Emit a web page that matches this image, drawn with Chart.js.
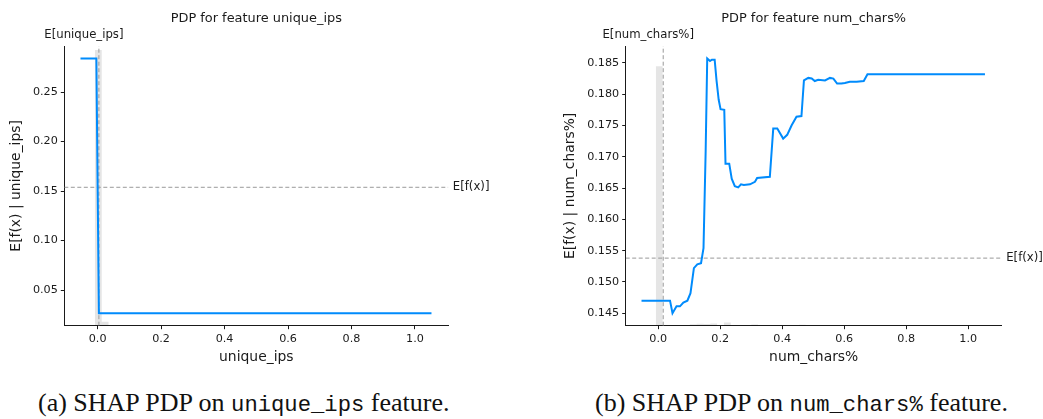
<!DOCTYPE html>
<html>
<head>
<meta charset="utf-8">
<script src="https://cdn.jsdelivr.net/npm/chart.js@4.4.1/dist/chart.umd.min.js"></script>
<style>
  body { margin: 0; background: #fff; width: 1043px; height: 419px; position: relative; overflow: hidden; }
  canvas { position: absolute; top: 0; }
  #c1 { left: 0; }
  #c2 { left: 520px; }
  .cap { position: absolute; top: 390px; font-family: 'Liberation Serif', serif; font-size: 26px; line-height: 26px; color: #111; white-space: nowrap; }
  .cap code { font-family: 'Liberation Mono', monospace; font-size: 22.2px; }
  #cap1 { left: 38px; }
  #cap2 { left: 595px; }
</style>
</head>
<body>
<canvas id="c1" width="520" height="372"></canvas>
<canvas id="c2" width="523" height="372"></canvas>
<div class="cap" id="cap1">(a) SHAP PDP on <code>unique_ips</code> feature.</div>
<div class="cap" id="cap2">(b) SHAP PDP on <code>num_chars%</code> feature.</div>
<script>
// PDP 曲线数据
const expectedValue = 0.1538;
const xTickValues = [0, 0.2, 0.4, 0.6, 0.8, 1.0];

const uniqueIpsX = [-0.054, -0.004, 0.004, 1.052];
const uniqueIpsY = [0.284, 0.284, 0.0265, 0.0265];
const uniqueIpsMean = 0.004;
const uniqueIpsXRange = [-0.105, 1.105];
const uniqueIpsYRange = [0.014, 0.2965];
const uniqueIpsYTicks = [0.05, 0.10, 0.15, 0.20, 0.25];
const uniqueIpsHistLeft = [-0.009, 0.013];
const uniqueIpsHistCounts = [0.986, 0.014];

const numCharsX = [-0.054, 0.038, 0.046, 0.059, 0.070, 0.081, 0.094, 0.104, 0.115, 0.126, 0.138, 0.146,
  0.153, 0.158, 0.167, 0.173, 0.182, 0.188, 0.195, 0.201, 0.213, 0.217, 0.229, 0.237, 0.247, 0.258,
  0.267, 0.276, 0.296, 0.312, 0.319, 0.360, 0.371, 0.384, 0.403, 0.416, 0.430, 0.446, 0.462, 0.470,
  0.484, 0.495, 0.505, 0.516, 0.538, 0.554, 0.565, 0.577, 0.591, 0.602, 0.618, 0.640, 0.663, 0.675, 1.054];
const numCharsY = [0.1470, 0.1470, 0.1450, 0.1461, 0.1461, 0.1467, 0.1470, 0.1482, 0.1522, 0.1528, 0.1530, 0.1554,
  0.1710, 0.1857, 0.1853, 0.1855, 0.1855, 0.1822, 0.1791, 0.1776, 0.1775, 0.1689, 0.1689, 0.1665, 0.1653, 0.1651,
  0.1656, 0.1655, 0.1656, 0.1660, 0.1666, 0.1668, 0.1745, 0.1745, 0.1729, 0.1735, 0.1750, 0.1764, 0.1765, 0.1822,
  0.1826, 0.1825, 0.1821, 0.1823, 0.1822, 0.1826, 0.1825, 0.1817, 0.1817, 0.1818, 0.1820, 0.1820, 0.1821, 0.1832, 0.1832];
const numCharsMean = 0.016;
const numCharsXRange = [-0.105, 1.108];
const numCharsYRange = [0.1430, 0.1877];
const numCharsYTicks = [0.145, 0.150, 0.155, 0.160, 0.165, 0.170, 0.175, 0.180, 0.185];
const numCharsHistLeft = [-0.008, 0.102, 0.124, 0.146, 0.168, 0.212, 0.300, 0.454];
const numCharsHistCounts = [0.928, 0.005, 0.007, 0.006, 0.008, 0.011, 0.004, 0.003];
const histWidth = 0.022;

Chart.defaults.font.family = 'DejaVu Sans';
Chart.defaults.color = '#1a1a1a';

const BLUE = '#008bfc';
const GREY = '#999999';

function toPoints(xs, ys) {
  return xs.map((x, i) => ({x, y: ys[i]}));
}
function histPoints(lefts, counts, w) {
  const pts = [];
  lefts.forEach((l, i) => {
    pts.push({x: l, y: 0}, {x: l, y: counts[i]}, {x: l + w, y: counts[i]}, {x: l + w, y: 0});
  });
  return pts;
}

// 标题、E[...] 标签
const pdpLabels = {
  id: 'pdpLabels',
  afterDraw(chart, args, opts) {
    const {ctx, chartArea, scales} = chart;
    ctx.save();
    ctx.fillStyle = '#1a1a1a';
    ctx.textBaseline = 'middle';
    ctx.textAlign = 'center';
    ctx.font = '12.9px "DejaVu Sans"';
    ctx.fillText(opts.title, (chartArea.left + chartArea.right) / 2, 18.3);
    ctx.font = '11.7px "DejaVu Sans"';
    ctx.fillText(opts.meanLabel, scales.x.getPixelForValue(opts.mean) - 15, 34.7);
    ctx.textAlign = 'left';
    ctx.fillText('E[f(x)]', chartArea.right + 4.5, scales.y.getPixelForValue(expectedValue));
    ctx.restore();
  }
};

function makePdp(id, cfg) {
  return new Chart(document.getElementById(id), {
    type: 'line',
    data: {
      datasets: [
        {data: toPoints(cfg.xs, cfg.ys), borderColor: BLUE, borderWidth: 2, pointRadius: 0, tension: 0, order: 0},
        {data: toPoints([cfg.mean, cfg.mean], cfg.yRange), borderColor: GREY, borderWidth: 1, borderDash: [4, 2.5], pointRadius: 0, order: 1},
        {data: toPoints(cfg.xRange, [expectedValue, expectedValue]), borderColor: GREY, borderWidth: 1, borderDash: [4, 2.5], pointRadius: 0, order: 1},
        {data: histPoints(cfg.histLeft, cfg.histCounts, histWidth), yAxisID: 'y2', borderWidth: 0, pointRadius: 0,
          fill: 'origin', backgroundColor: 'rgba(0,0,0,0.1)', order: 2}
      ]
    },
    options: {
      responsive: false,
      animation: false,
      events: [],
      layout: {padding: {left: 0, right: cfg.padRight, top: 46, bottom: 0}},
      plugins: {
        legend: {display: false},
        tooltip: {enabled: false},
        pdpLabels: {title: cfg.title, meanLabel: cfg.meanLabel, mean: cfg.mean}
      },
      scales: {
        x: {
          type: 'linear', min: cfg.xRange[0], max: cfg.xRange[1],
          afterBuildTicks: s => { s.ticks = xTickValues.map(value => ({value})); },
          afterFit: s => { s.height = 46.3; },
          grid: {drawOnChartArea: false, tickLength: 3.5, color: '#1a1a1a'},
          border: {color: '#1a1a1a', width: 1},
          ticks: {font: {size: 11.2}, padding: 3, maxRotation: 0, callback: v => v.toFixed(1)},
          title: {display: true, text: cfg.xLabel, font: {size: 13.9}, padding: {top: 0, bottom: 6.7}}
        },
        y: {
          type: 'linear', min: cfg.yRange[0], max: cfg.yRange[1],
          afterBuildTicks: s => { s.ticks = cfg.yTicks.map(value => ({value})); },
          afterFit: s => { s.width = cfg.yWidth; },
          grid: {drawOnChartArea: false, tickLength: 3.5, color: '#1a1a1a'},
          border: {color: '#1a1a1a', width: 1},
          ticks: {font: {size: 11.2}, padding: 3, callback: v => v.toFixed(cfg.decimals)},
          title: {display: true, text: cfg.yLabel, font: {size: 13.9}, padding: {top: cfg.yTitlePad, bottom: 0}}
        },
        y2: {type: 'linear', display: false, min: 0, max: 1}
      }
    },
    plugins: [pdpLabels]
  });
}

makePdp('c1', {
  title: 'PDP for feature unique_ips', meanLabel: 'E[unique_ips]', xLabel: 'unique_ips', yLabel: 'E[f(x) | unique_ips]',
  xs: uniqueIpsX, ys: uniqueIpsY, mean: uniqueIpsMean, xRange: uniqueIpsXRange, yRange: uniqueIpsYRange,
  yTicks: uniqueIpsYTicks, decimals: 2, histLeft: uniqueIpsHistLeft, histCounts: uniqueIpsHistCounts,
  padRight: 71.7, yWidth: 64.3, yTitlePad: 8.3
});
makePdp('c2', {
  title: 'PDP for feature num_chars%', meanLabel: 'E[num_chars%]', xLabel: 'num_chars%', yLabel: 'E[f(x) | num_chars%]',
  xs: numCharsX, ys: numCharsY, mean: numCharsMean, xRange: numCharsXRange, yRange: numCharsYRange,
  yTicks: numCharsYTicks, decimals: 3, histLeft: numCharsHistLeft, histCounts: numCharsHistCounts,
  padRight: 41.3, yWidth: 105.7, yTitlePad: 41.7
});
</script>
</body>
</html>
